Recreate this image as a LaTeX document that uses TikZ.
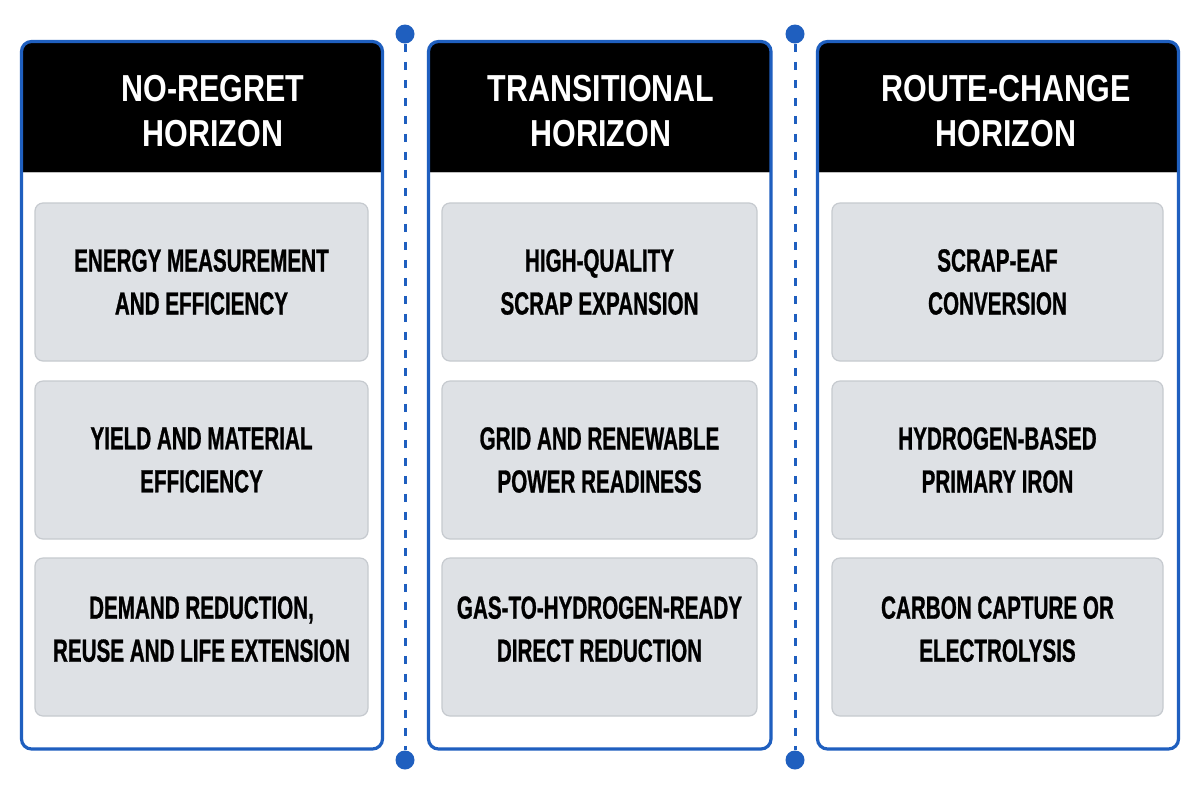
\documentclass[tikz,border=0pt]{standalone}
\usepackage{fontspec}
\setmainfont{Liberation Sans}
\newfontfamily\headfont[FakeStretch=0.81]{Liberation Sans}
\newfontfamily\cardfont[FakeStretch=0.645,FakeBold=0.8]{Liberation Sans}
\usetikzlibrary{positioning}

\definecolor{hblue}{HTML}{1F5FBF}
\definecolor{cardgray}{HTML}{DEE1E5}
\definecolor{cardedge}{HTML}{C6CACF}

\tikzset{
  frame/.style={draw=hblue, line width=1.6pt, rounded corners=5pt},
  headtext/.style={text=white, align=center, font=\headfont\bfseries\fontsize{18.8}{22.5}\selectfont},
  card/.style={draw=cardedge, fill=cardgray, line width=0.6pt, rounded corners=4pt,
    minimum height=79pt, align=center, inner sep=0pt,
    font=\cardfont\bfseries\fontsize{16}{21.5}\selectfont},
  lowcard/.style={card, text depth=8pt},
  dot/.style={circle, fill=hblue, inner sep=0pt, minimum size=9.5pt},
  divline/.style={hblue, line width=1.5pt, dash pattern=on 4pt off 5pt},
}

\begin{document}
\begin{tikzpicture}[x=0.5pt,y=-0.5pt]
\useasboundingbox[fill=white] (0,0) rectangle (1200,800);

% column frames with black headers
\foreach \l/\r/\hx/\title in {21.5/382.5/213/{NO-REGRET\\HORIZON},
    428.5/771/601/{TRANSITIONAL\\HORIZON},
    817.5/1178.5/1006/{ROUTE-CHANGE\\HORIZON}}{
  \begin{scope}
    \clip[rounded corners=5pt] (\l,41.5) rectangle (\r,749);
    \fill[black] (\l,41.5) rectangle (\r,172);
  \end{scope}
  \draw[black!25, line width=0.5pt] (\l,172) -- (\r,172);
  \draw[frame] (\l,41.5) rectangle (\r,749);
  \node[headtext] at (\hx,111) {\title};
}

% cards
\node[card, minimum width=166.5pt] (nr1) at (201.5,282) {ENERGY MEASUREMENT\\AND EFFICIENCY};
\node[card, minimum width=166.5pt] (nr2) at (201.5,460) {YIELD AND MATERIAL\\EFFICIENCY};
\node[lowcard, minimum width=166.5pt] (nr3) at (201.5,637) {DEMAND REDUCTION,\\REUSE AND LIFE EXTENSION};

\node[card, minimum width=157.5pt] (tr1) at (599.5,282) {HIGH-QUALITY\\SCRAP EXPANSION};
\node[card, minimum width=157.5pt] (tr2) at (599.5,460) {GRID AND RENEWABLE\\POWER READINESS};
\node[lowcard, minimum width=157.5pt] (tr3) at (599.5,637) {GAS-TO-HYDROGEN-READY\\DIRECT REDUCTION};

\node[card, minimum width=165.5pt] (rc1) at (997.5,282) {SCRAP-EAF\\CONVERSION};
\node[card, minimum width=165.5pt] (rc2) at (997.5,460) {HYDROGEN-BASED\\PRIMARY IRON};
\node[lowcard, minimum width=165.5pt] (rc3) at (997.5,637) {CARBON CAPTURE OR\\ELECTROLYSIS};

% dividers
\node[dot] (d1t) at (405,34) {};
\node[dot] (d1b) at (405,760) {};
\node[dot] (d2t) at (795,34) {};
\node[dot] (d2b) at (795,760) {};
\draw[divline] (d1t) -- (d1b);
\draw[divline] (d2t) -- (d2b);
\end{tikzpicture}
\end{document}
